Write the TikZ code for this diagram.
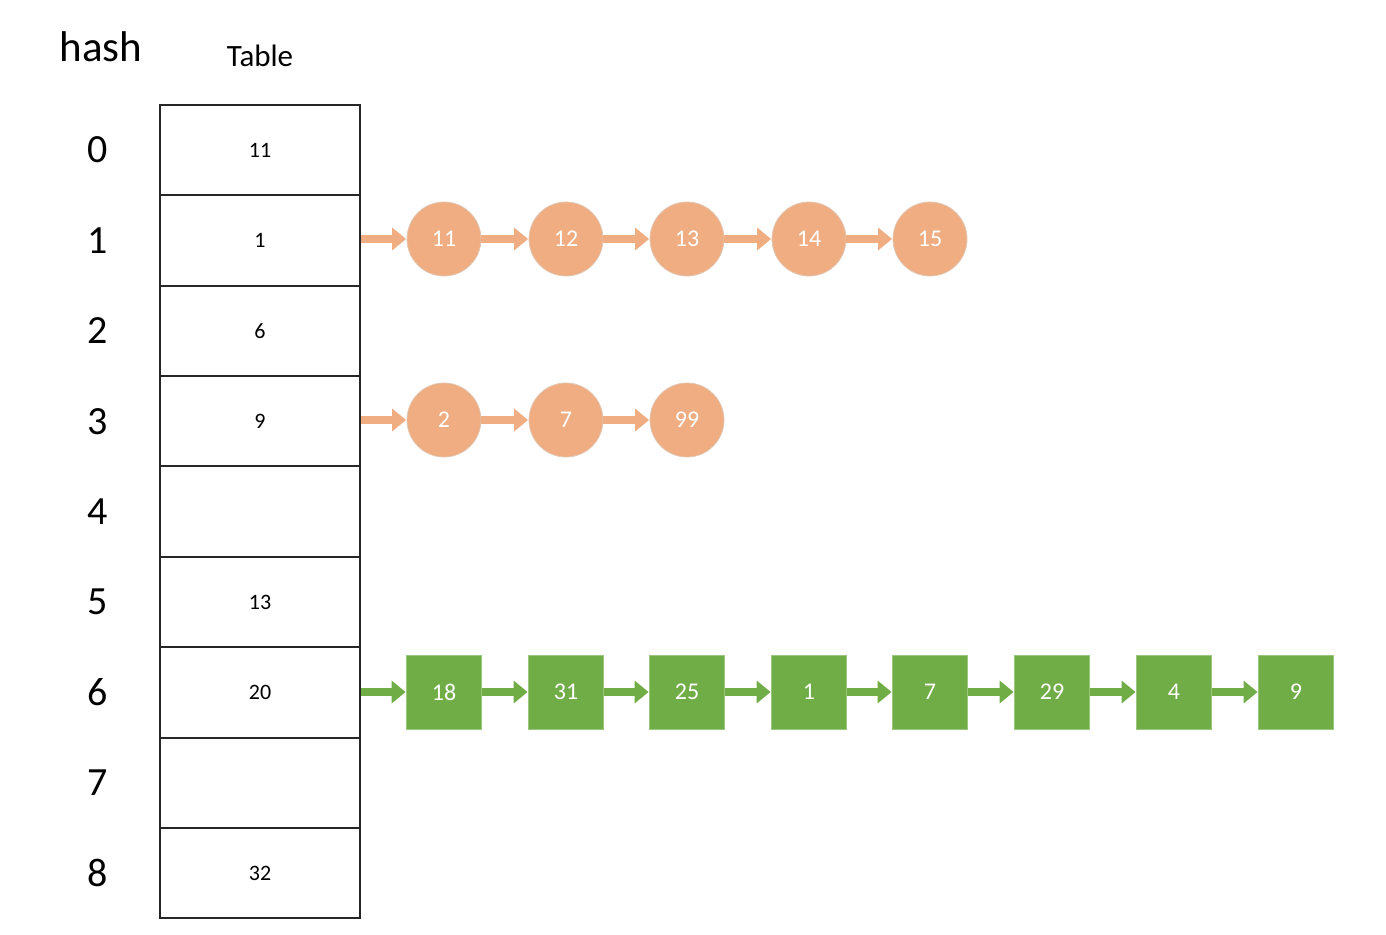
\documentclass[tikz,border=0pt]{standalone}
\usepackage{fontspec}
\setmainfont{Carlito}
\usetikzlibrary{arrows.meta}
\definecolor{org}{HTML}{EFAD81}
\definecolor{grn}{HTML}{70AD47}
\begin{document}
\begin{tikzpicture}[x=1pt,y=-1pt,
  cell/.style={draw=black!85,line width=2pt,minimum width=200pt,minimum height=90.4pt,inner sep=0pt,font=\fontsize{22}{24}\selectfont},
  idx/.style={font=\fontsize{40}{44}\selectfont},
  circ/.style={circle,fill=org,draw=org!70!gray!60,line width=0.8pt,minimum size=74pt,inner sep=0pt,text=white,font=\fontsize{24}{26}\selectfont},
  sq/.style={rectangle,fill=grn,draw=grn!70!white,line width=0.8pt,minimum width=75pt,minimum height=74pt,inner sep=0pt,text=white,font=\fontsize{24}{26}\selectfont},
  oarr/.style={draw=org,line width=8pt,-{Triangle[length=14pt,width=22pt]},shorten >=0.5pt},
  garr/.style={draw=grn,line width=8pt,-{Triangle[length=14pt,width=22pt]},shorten >=0.5pt}]
\useasboundingbox (0,0) rectangle (1386,934);
\node[font=\fontsize{43}{46}\selectfont] (hash) at (101,47) {hash};
\node[font=\fontsize{31}{34}\selectfont] (tbl) at (260,56) {Table};
\foreach \i/\v in {0/11,1/1,2/6,3/9,4/{},5/13,6/20,7/{},8/32}{
  \node[cell] (c\i) at (260,{150+\i*90.4}) {\v};
  \node[idx] (h\i) at (98,{150+\i*90.4}) {\i};
}
\foreach \n/\x/\v in {a1/444/11,a2/566/12,a3/687/13,a4/809/14,a5/930/15}{
  \node[circ] (\n) at (\x,239) {\v};
}
\foreach \n/\x/\v in {b1/444/2,b2/566/7,b3/687/99}{
  \node[circ] (\n) at (\x,420) {\v};
}
\foreach \n/\x/\v in {g1/444/18,g2/566/31,g3/687/25,g4/809/1,g5/930/7,g6/1052/29,g7/1174/4,g8/1296/9}{
  \node[sq] (\n) at (\x,692) {\v};
}
\draw[oarr] (c1.east |- a1.west) -- (a1.west);
\foreach \p/\q in {a1/a2,a2/a3,a3/a4,a4/a5}{\draw[oarr] (\p) -- (\q);}
\draw[oarr] (c3.east |- b1.west) -- (b1.west);
\foreach \p/\q in {b1/b2,b2/b3}{\draw[oarr] (\p) -- (\q);}
\draw[garr] (c6.east |- g1.west) -- (g1.west);
\foreach \p/\q in {g1/g2,g2/g3,g3/g4,g4/g5,g5/g6,g6/g7,g7/g8}{\draw[garr] (\p) -- (\q);}
\end{tikzpicture}
\end{document}
